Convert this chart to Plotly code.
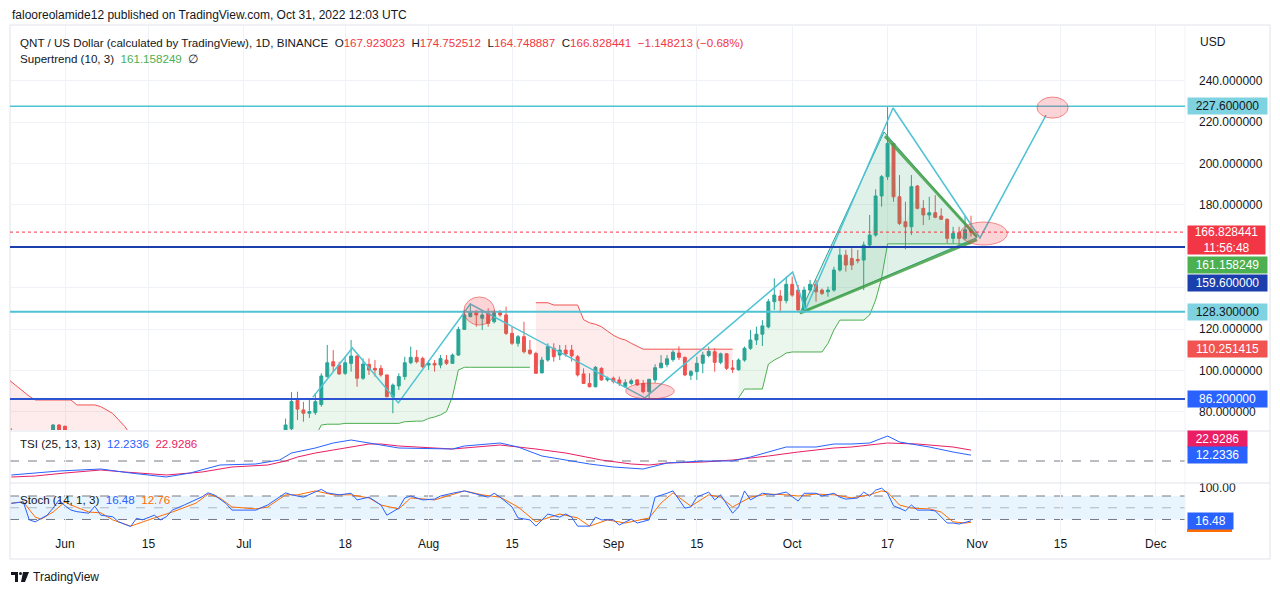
import pandas as pd
import plotly.graph_objects as go

# ===================== DATA =====================
# daily candles (QNT/USD, 1D)
pre_dates = ["2022-05-23", "2022-05-30", "2022-05-31", "2022-06-01"]
pre_open = [70.8, 70.5, 73.6, 73.0]
pre_high = [72.0, 74.0, 74.0, 73.3]
pre_low = [68.0, 68.0, 69.5, 68.5]
pre_close = [69.0, 73.6, 70.5, 69.5]

main_first, main_last = "2022-07-08", "2022-10-31"
jul_open = [70.5, 71.8, 85.5, 80.9, 79.3, 79.6, 83.5, 97.0, 104.2, 102.6, 98.6, 103.4, 106.9, 96.2, 102.9, 101.0, 101.0, 97.8, 87.3, 92.5, 97.0, 103.7, 106.3, 105.8]
jul_high = [76.7, 89.5, 89.7, 84.8, 86.5, 89.0, 98.6, 112.3, 109.8, 104.2, 106.6, 114.7, 107.4, 105.8, 105.8, 105.0, 102.6, 98.0, 93.7, 98.6, 106.6, 111.5, 109.8, 106.6]
jul_low = [69.5, 71.0, 76.0, 75.2, 77.0, 78.5, 82.5, 96.5, 99.4, 97.8, 97.8, 99.4, 92.1, 95.4, 97.8, 97.0, 97.0, 87.0, 79.3, 90.5, 95.4, 103.0, 103.4, 101.0]
jul_close = [73.6, 85.0, 81.3, 79.3, 80.1, 84.9, 97.3, 103.7, 102.1, 98.3, 103.7, 106.9, 96.2, 103.1, 100.2, 100.2, 97.8, 87.3, 92.9, 97.0, 103.7, 106.3, 104.2, 101.8]

aug_open = [102.6, 103.4, 102.6, 105.0, 103.4, 107.4, 119.8, 126.0, 128.4, 125.2, 127.6, 123.5, 128.4, 126.8, 117.9, 113.1, 116.3, 109.8, 108.2, 98.8, 105.0, 110.7, 107.4, 109.8, 109.8, 106.6, 98.3, 93.7, 92.1, 101.0, 95.4]
aug_high = [105.0, 105.0, 107.4, 107.4, 108.2, 121.1, 129.2, 132.4, 129.2, 129.2, 130.0, 129.2, 129.2, 130.8, 121.1, 117.1, 123.5, 114.7, 109.0, 106.6, 113.1, 113.1, 112.3, 112.3, 112.3, 107.4, 101.0, 98.6, 102.1, 101.5, 97.0]
aug_low = [100.2, 99.4, 101.0, 102.6, 103.1, 107.0, 119.5, 125.6, 121.1, 119.5, 121.1, 122.7, 126.0, 117.1, 112.3, 111.5, 108.2, 107.4, 98.3, 98.6, 104.2, 104.2, 105.0, 106.6, 104.2, 97.0, 93.4, 91.8, 91.8, 95.0, 94.6]
aug_close = [103.4, 102.6, 105.8, 103.4, 107.4, 119.8, 126.8, 128.4, 126.8, 126.8, 122.7, 128.4, 126.8, 117.9, 113.1, 116.3, 109.0, 108.2, 98.6, 105.0, 111.5, 106.6, 109.8, 107.9, 107.0, 97.8, 93.7, 92.1, 101.5, 95.4, 96.2]

sep_open = [96.2, 95.4, 92.1, 93.7, 95.4, 93.7, 89.7, 95.4, 101.3, 102.8, 105.2, 108.4, 106.2, 97.6, 99.4, 103.4, 107.2, 109.0, 103.9, 108.0, 101.2, 100.3, 105.0, 110.7, 114.7, 117.5, 121.0, 133.2, 135.9, 133.7]
sep_high = [97.0, 97.0, 95.7, 96.0, 95.7, 95.4, 95.7, 103.0, 107.4, 107.4, 109.8, 111.6, 106.8, 100.2, 106.6, 109.0, 111.5, 110.7, 108.6, 108.4, 105.0, 105.8, 111.5, 119.5, 121.1, 124.3, 134.5, 144.5, 138.8, 145.3]
sep_low = [93.7, 92.5, 91.8, 93.0, 92.5, 88.9, 86.0, 94.0, 101.0, 101.5, 104.2, 105.0, 97.2, 95.4, 95.4, 98.6, 106.3, 99.4, 103.0, 100.2, 98.8, 99.9, 104.2, 109.9, 112.3, 111.8, 120.3, 129.2, 127.9, 132.4]
sep_close = [94.6, 93.7, 94.1, 95.0, 93.0, 89.7, 95.7, 101.3, 103.5, 105.6, 108.8, 106.3, 97.8, 99.4, 103.4, 107.4, 109.2, 103.9, 108.0, 101.0, 100.5, 105.0, 110.7, 114.7, 117.5, 121.5, 133.2, 136.4, 133.7, 141.6]

oct_open = [141.6, 138.8, 129.2, 138.8, 141.6, 138.8, 138.0, 138.8, 148.5, 155.7, 154.1, 153.6, 153.3, 160.6, 165.4, 184.3, 193.6, 209.7, 183.9, 171.8, 169.4, 189.1, 178.3, 175.1, 176.2, 174.6, 173.0, 163.8, 166.5, 163.8, 167.923023]
oct_high = [145.3, 141.3, 140.5, 143.7, 143.7, 139.6, 140.5, 150.1, 159.0, 158.2, 159.0, 158.2, 162.2, 175.1, 187.5, 194.4, 227.6, 209.9, 194.4, 181.5, 194.4, 189.6, 182.3, 183.9, 184.7, 178.3, 173.5, 169.4, 169.4, 174.6, 174.752512]
oct_low = [135.6, 128.4, 128.4, 138.0, 133.2, 136.4, 135.6, 138.0, 147.7, 147.7, 148.5, 151.7, 138.8, 159.8, 164.6, 179.1, 192.0, 181.5, 170.2, 158.5, 165.4, 177.8, 170.2, 172.7, 173.5, 172.7, 161.4, 161.4, 159.8, 163.0, 164.748887]
oct_close = [136.4, 129.2, 138.8, 141.6, 138.0, 137.2, 138.8, 148.5, 155.7, 150.9, 150.9, 153.0, 160.6, 165.4, 184.3, 193.6, 209.7, 183.9, 171.0, 169.4, 188.8, 178.3, 175.1, 176.2, 174.0, 173.0, 163.8, 166.2, 163.8, 167.976654, 166.828441]

# Supertrend (10, 3) segments
st_a_first = "2022-05-22"   # down trend
st_a_vals = [96.8, 94.5, 92.0, 89.5, 87.5, 85.7, 85.7, 85.7, 85.7, 85.7, 85.7, 85.7, 83.3, 83.3, 83.3, 83.3, 82.5, 81.0, 79.2, 76.1, 73.0, 69.0]
st_b_first = "2022-07-08"   # up trend
st_b_vals = [63.0, 64.0, 65.0, 66.0, 67.0, 68.0, 73.6, 74.0, 74.0, 74.0, 74.4, 74.4, 74.4, 74.4, 74.4, 74.4, 74.4, 74.4, 74.4, 74.4, 75.2, 75.5, 75.5, 75.5,
             76.8, 77.5, 78.5, 80.1, 87.3, 100.2, 101.5, 101.5, 101.5, 101.5, 101.5, 101.5, 101.5, 101.5, 101.5, 101.5, 101.5, 101.5]
st_c_first = "2022-08-19"   # down trend
st_c_vals = [132.7, 132.7, 132.7, 131.6, 131.6, 131.6, 131.6, 131.6, 124.5, 123.0, 122.3, 121.1, 119.0,
             117.0, 115.5, 114.7, 113.1, 111.8, 110.251415, 110.251415, 110.251415, 110.251415, 110.251415, 110.251415, 110.251415,
             110.251415, 110.251415, 110.251415, 110.251415, 110.251415, 110.251415, 110.251415, 110.251415, 110.251415]
st_d_first = "2022-09-22"   # up trend
st_d_vals = [86.7, 91.0, 91.0, 91.0, 91.0, 103.0, 105.0, 106.5, 108.4,
             108.9, 108.9, 108.9, 108.9, 108.9, 108.9, 113.0, 119.5, 124.3, 124.3, 124.3, 124.3, 124.3, 126.8, 134.0, 144.6,
             161.158249, 161.158249, 161.158249, 161.158249, 161.158249, 161.158249, 161.158249, 161.158249, 161.158249, 161.158249,
             161.158249, 161.158249, 161.158249, 161.158249, 161.158249]

# TSI (25, 13, 13)
tsi_dates = ["2022-05-23", "2022-05-27", "2022-05-31", "2022-06-07", "2022-06-12", "2022-06-18", "2022-06-22", "2022-06-27", "2022-07-03",
             "2022-07-07", "2022-07-09", "2022-07-13", "2022-07-16", "2022-07-19", "2022-07-22", "2022-07-24", "2022-07-27", "2022-08-05",
             "2022-08-07", "2022-08-13", "2022-08-16", "2022-08-20", "2022-08-24", "2022-08-28", "2022-09-01", "2022-09-06", "2022-09-10",
             "2022-09-16", "2022-09-21", "2022-09-24", "2022-09-30", "2022-10-05", "2022-10-08", "2022-10-11", "2022-10-14", "2022-10-17",
             "2022-10-19", "2022-10-24", "2022-10-28", "2022-10-31"]
tsi_vals = [-29.4, -25.2, -21.0, -16.8, -25.2, -33.6, -25.2, -8.4, -6.3, 2.1, 16.8, 27.3, 37.8, 44.1, 37.8, 33.6, 27.3, 25.2,
            31.5, 37.8, 29.4, 10.5, 2.1, -6.3, -12.6, -16.8, -4.2, 0.0, 0.0, 8.4, 29.4, 29.4, 35.7, 35.7, 37.8, 52.5,
            39.9, 29.4, 18.9, 12.2336]
sig_dates = ["2022-05-23", "2022-05-27", "2022-06-01", "2022-06-07", "2022-06-11", "2022-06-15", "2022-06-18", "2022-06-24", "2022-06-29",
             "2022-07-05", "2022-07-08", "2022-07-10", "2022-07-13", "2022-07-16", "2022-07-19", "2022-07-22", "2022-07-24", "2022-07-27",
             "2022-08-05", "2022-08-13", "2022-08-19", "2022-08-24", "2022-08-30", "2022-09-04", "2022-09-07", "2022-09-10", "2022-09-16",
             "2022-09-21", "2022-09-27", "2022-10-02", "2022-10-08", "2022-10-11", "2022-10-17", "2022-10-22", "2022-10-28", "2022-10-31"]
sig_vals = [-33.6, -31.5, -25.2, -18.9, -23.1, -27.3, -29.4, -23.1, -12.6, -8.4, 0.0, 8.4, 16.8, 23.1, 29.4, 35.7, 35.7, 31.5,
            25.2, 33.6, 25.2, 16.8, 2.1, -6.3, -8.4, -4.2, -2.1, 2.1, 10.5, 18.9, 27.3, 29.4, 37.8, 35.7, 29.4, 22.9286]

# Stoch (14, 1, 3)
k_dates = ["2022-05-23", "2022-05-25", "2022-05-26", "2022-05-27", "2022-05-29", "2022-05-30", "2022-05-31", "2022-06-01", "2022-06-02",
           "2022-06-03", "2022-06-05", "2022-06-06", "2022-06-07", "2022-06-09", "2022-06-10", "2022-06-12", "2022-06-13", "2022-06-14",
           "2022-06-16", "2022-06-17", "2022-06-18", "2022-06-19", "2022-06-21", "2022-06-24", "2022-06-25", "2022-06-26", "2022-06-28",
           "2022-06-29", "2022-07-01", "2022-07-03", "2022-07-05", "2022-07-07", "2022-07-08", "2022-07-09", "2022-07-11", "2022-07-14",
           "2022-07-15", "2022-07-17", "2022-07-19", "2022-07-20", "2022-07-22", "2022-07-24", "2022-07-25", "2022-07-27", "2022-07-28",
           "2022-07-29", "2022-07-31", "2022-08-02", "2022-08-03", "2022-08-05", "2022-08-07", "2022-08-09", "2022-08-11", "2022-08-12",
           "2022-08-13", "2022-08-15", "2022-08-16", "2022-08-18", "2022-08-19", "2022-08-21", "2022-08-23", "2022-08-24", "2022-08-25",
           "2022-08-26", "2022-08-28", "2022-08-29", "2022-08-30", "2022-09-01", "2022-09-02", "2022-09-04", "2022-09-05", "2022-09-07",
           "2022-09-08", "2022-09-10", "2022-09-11", "2022-09-13", "2022-09-14", "2022-09-15", "2022-09-17", "2022-09-18", "2022-09-19",
           "2022-09-21", "2022-09-22", "2022-09-23", "2022-09-24", "2022-09-26", "2022-09-28", "2022-09-30", "2022-10-02", "2022-10-03",
           "2022-10-05", "2022-10-06", "2022-10-08", "2022-10-09", "2022-10-10", "2022-10-12", "2022-10-13", "2022-10-14", "2022-10-15",
           "2022-10-16", "2022-10-17", "2022-10-18", "2022-10-20", "2022-10-21", "2022-10-22", "2022-10-24", "2022-10-25", "2022-10-27",
           "2022-10-28", "2022-10-29", "2022-10-31"]
k_vals = [61, 65, 19, 14, 31, 49, 70, 55, 44, 40, 36, 54, 31, 27, 14, 2, 23, 19, 31, 19, 27, 44, 57, 78, 88, 83, 61, 44, 44, 44,
          57, 78, 88, 83, 77, 97, 88, 83, 87, 70, 77, 57, 31, 49, 75, 80, 70, 72, 80, 87, 93, 85, 77, 87, 77, 52, 24, 19, 3,
          34, 26, 34, 26, 3, 3, 26, 19, 19, 6, 21, 11, 19, 77, 87, 93, 49, 52, 77, 90, 70, 83, 36, 52, 93, 70, 87, 83, 90, 67,
          87, 87, 80, 87, 77, 72, 75, 90, 80, 95, 100, 87, 55, 42, 57, 44, 44, 42, 11, 11, 8.5, 16.48]
d_dates = ["2022-05-23", "2022-05-25", "2022-05-27", "2022-05-28", "2022-05-30", "2022-06-01", "2022-06-02", "2022-06-05", "2022-06-07",
           "2022-06-09", "2022-06-12", "2022-06-14", "2022-06-16", "2022-06-19", "2022-06-23", "2022-06-25", "2022-06-27", "2022-06-29",
           "2022-07-03", "2022-07-05", "2022-07-08", "2022-07-10", "2022-07-13", "2022-07-16", "2022-07-19", "2022-07-22", "2022-07-24",
           "2022-07-27", "2022-07-29", "2022-08-02", "2022-08-05", "2022-08-07", "2022-08-10", "2022-08-13", "2022-08-16", "2022-08-19",
           "2022-08-23", "2022-08-26", "2022-08-28", "2022-08-31", "2022-09-03", "2022-09-07", "2022-09-09", "2022-09-11", "2022-09-14",
           "2022-09-17", "2022-09-19", "2022-09-21", "2022-09-24", "2022-09-27", "2022-09-30", "2022-10-02", "2022-10-05", "2022-10-08",
           "2022-10-11", "2022-10-14", "2022-10-16", "2022-10-17", "2022-10-19", "2022-10-21", "2022-10-24", "2022-10-26", "2022-10-28",
           "2022-10-30", "2022-10-31"]
d_vals = [62, 65, 26, 21, 39, 65, 57, 39, 37, 19, 3, 14, 24, 39, 62, 85, 75, 52, 47, 52, 83, 83, 93, 83, 83, 75, 57, 47, 75, 70,
          83, 93, 83, 77, 52, 14, 34, 24, 3, 19, 11, 24, 62, 88, 54, 83, 77, 52, 77, 85, 83, 80, 85, 83, 75, 83, 93, 90, 57, 49,
          47, 39, 14, 11, 12.76]

# drawings (user annotations on the chart)
levels_cyan = [227.6, 128.3]
level_navy = 159.6
level_blue = 86.2
last_price = 166.828441
zig_t = ["2022-07-12 14:00", "2022-07-19 05:00", "2022-07-26 22:00", "2022-08-08 00:00", "2022-09-06 07:00",
         "2022-10-01 02:00", "2022-10-03 05:00", "2022-10-17 22:00", "2022-11-01 12:00", "2022-11-12 14:00"]
zig_p = [87.1, 110.8, 84.3, 132.1, 86.7, 147.5, 129.2, 226.8, 164.0, 223.4]
tri_t = ["2022-10-02 07:00", "2022-10-16 10:00", "2022-11-01 00:00", "2022-10-02 07:00"]
tri_p = [127.7, 215.2, 164.2, 127.7]
upper_t, upper_p = ["2022-10-16 14:00", "2022-11-01 00:00"], [213.2, 164.6]
lower_t, lower_p = ["2022-10-02 07:00", "2022-11-01 00:00"], [127.7, 163.2]
ellipses = [("2022-08-06 22:00", "2022-08-12 02:00", 121.9, 135.5),
            ("2022-09-03 02:00", "2022-09-11 05:00", 86.2, 93.9),
            ("2022-10-29 05:00", "2022-11-06 02:00", 160.6, 171.7),
            ("2022-11-11 02:00", "2022-11-16 07:00", 221.9, 232.1)]

price_ticks = [80, 100, 120, 140, 160, 180, 200, 220, 240]
hidden_ticks = [140, 160]   # covered by price labels in the original
time_ticks = ["2022-06-01", "2022-06-15", "2022-07-01", "2022-07-18", "2022-08-01", "2022-08-15", "2022-09-01",
              "2022-09-15", "2022-10-01", "2022-10-17", "2022-11-01", "2022-11-15", "2022-12-01"]
time_labels = ["Jun", "15", "Jul", "18", "Aug", "15", "Sep", "15", "Oct", "17", "Nov", "15", "Dec"]
stoch_levels = [20, 50, 80]

# ===================== LAYOUT HELPERS =====================
# page body has an 8px margin -> figure drawn 8px right/down of window origin
PAGE = 8
W, H = 1280 - PAGE, 595 - PAGE
PLOT_L, PLOT_R, PLOT_T, PLOT_B = 10, 1185, 25, 535   # target window pixels
ML, MR, MT, MB = PLOT_L - PAGE, W + PAGE - PLOT_R, PLOT_T - PAGE, H + PAGE - PLOT_B
PW, PH = PLOT_R - PLOT_L, PLOT_B - PLOT_T


def px(x):
    return (x - PLOT_L) / PW


def py(y):
    return (PLOT_B - y) / PH


UP, DN = "#26a69a", "#ef5350"
ST_G, ST_R = "#4caf50", "#f05350"
CYAN = "#4fc3d3"
FONT = "Liberation Sans"
TXT = "#131722"

main_dates = pd.date_range(main_first, main_last, freq="D")
o_main = jul_open + aug_open + sep_open + oct_open
h_main = jul_high + aug_high + sep_high + oct_high
l_main = jul_low + aug_low + sep_low + oct_low
c_main = jul_close + aug_close + sep_close + oct_close
mid = pd.Series([(a + b) / 2 for a, b in zip(o_main, c_main)], index=main_dates)

fig = go.Figure()

# --- supertrend fills and lines ---
da = pd.date_range(st_a_first, periods=len(st_a_vals), freq="D")
fig.add_trace(go.Scatter(x=da, y=st_a_vals, mode="lines", line=dict(color=ST_R, width=1),
                         fill="tozeroy", fillcolor="rgba(242,54,69,0.10)"))
for first, vals, col, fcol in [(st_b_first, st_b_vals, ST_G, "rgba(76,175,80,0.11)"),
                               (st_c_first, st_c_vals, ST_R, "rgba(242,54,69,0.10)"),
                               (st_d_first, st_d_vals, ST_G, "rgba(76,175,80,0.11)")]:
    d = pd.date_range(first, periods=len(vals), freq="D")
    fig.add_trace(go.Scatter(x=d, y=mid.loc[d].values, mode="lines", line=dict(width=0), showlegend=False))
    fig.add_trace(go.Scatter(x=d, y=vals, mode="lines", line=dict(color=col, width=1),
                             fill="tonexty", fillcolor=fcol))

# --- candles ---
fig.add_trace(go.Candlestick(
    x=list(pd.to_datetime(pre_dates)) + list(main_dates),
    open=pre_open + o_main, high=pre_high + h_main, low=pre_low + l_main, close=pre_close + c_main,
    increasing=dict(line=dict(color=UP, width=1), fillcolor=UP),
    decreasing=dict(line=dict(color=DN, width=1), fillcolor=DN),
    whiskerwidth=0))

# --- triangle pattern ---
fig.add_trace(go.Scatter(x=tri_t, y=tri_p, mode="lines", line=dict(color="#26a69a", width=1),
                         fill="toself", fillcolor="rgba(56,170,120,0.16)"))
fig.add_trace(go.Scatter(x=upper_t, y=upper_p, mode="lines", line=dict(color="rgba(67,160,71,0.85)", width=3)))
fig.add_trace(go.Scatter(x=lower_t, y=lower_p, mode="lines", line=dict(color="rgba(67,160,71,0.85)", width=3)))
# --- zigzag path ---
fig.add_trace(go.Scatter(x=zig_t, y=zig_p, mode="lines", line=dict(color=CYAN, width=1.5)))

# --- TSI ---
fig.add_trace(go.Scatter(x=sig_dates, y=sig_vals, mode="lines", line=dict(color="#e91e63", width=1), yaxis="y2"))
fig.add_trace(go.Scatter(x=tsi_dates, y=tsi_vals, mode="lines", line=dict(color="#2962ff", width=1), yaxis="y2"))
# --- Stoch ---
fig.add_trace(go.Scatter(x=d_dates, y=d_vals, mode="lines", line=dict(color="#ff6d00", width=1), yaxis="y3"))
fig.add_trace(go.Scatter(x=k_dates, y=k_vals, mode="lines", line=dict(color="#2962ff", width=1), yaxis="y3"))

# ===================== SHAPES =====================
shapes = []
shapes.append(dict(type="rect", xref="paper", yref="y3", x0=0, x1=1, y0=stoch_levels[0], y1=stoch_levels[2],
                   fillcolor="rgba(33,150,243,0.10)", line=dict(width=0), layer="below"))
for lv, colr in [(stoch_levels[0], "#787b86"), (stoch_levels[1], "rgba(120,123,134,0.5)"), (stoch_levels[2], "#787b86")]:
    shapes.append(dict(type="line", xref="paper", yref="y3", x0=0, x1=1, y0=lv, y1=lv,
                       line=dict(color=colr, width=1, dash="dash"), layer="below"))
shapes.append(dict(type="line", xref="paper", yref="y2", x0=0, x1=1, y0=0, y1=0,
                   line=dict(color="#787b86", width=1, dash="dash"), layer="below"))
for lv in levels_cyan:
    shapes.append(dict(type="line", xref="paper", yref="y", x0=0, x1=1, y0=lv, y1=lv,
                       line=dict(color=CYAN, width=2 if lv < 200 else 1.5)))
shapes.append(dict(type="line", xref="paper", yref="y", x0=0, x1=1, y0=level_navy, y1=level_navy,
                   line=dict(color="#1c3fae", width=2)))
shapes.append(dict(type="line", xref="paper", yref="y", x0=0, x1=1, y0=level_blue, y1=level_blue,
                   line=dict(color="#2d55d2", width=2)))
shapes.append(dict(type="line", xref="paper", yref="y", x0=0, x1=1, y0=last_price, y1=last_price,
                   line=dict(color="#f23645", width=1, dash="dot")))
for x0, x1, y0, y1 in ellipses:
    shapes.append(dict(type="circle", xref="x", yref="y", x0=x0, x1=x1, y0=y0, y1=y1,
                       fillcolor="rgba(242,54,69,0.22)", line=dict(color="rgba(229,57,53,0.55)", width=1)))
# frame / separators
shapes.append(dict(type="rect", xref="paper", yref="paper", x0=px(10), x1=px(1270), y0=py(559), y1=py(25),
                   line=dict(color="#e0e3eb", width=1), layer="below"))
for yy in (431, 483):
    shapes.append(dict(type="line", xref="paper", yref="paper", x0=px(10), x1=px(1270), y0=py(yy), y1=py(yy),
                       line=dict(color="#e0e3eb", width=1)))
shapes.append(dict(type="line", xref="paper", yref="paper", x0=1, x1=1, y0=py(537), y1=py(25),
                   line=dict(color="#f0f3fa", width=1), layer="below"))
# orange strip of the (covered) %D price label
shapes.append(dict(type="rect", xref="paper", yref="paper", x0=px(1187), x1=px(1232), y0=py(532), y1=py(529),
                   fillcolor="#ff6d00", line=dict(width=0)))
# TradingView logo glyph
shapes += [
    dict(type="rect", xref="paper", yref="paper", x0=px(11), x1=px(18), y0=py(575), y1=py(572), fillcolor=TXT, line=dict(width=0)),
    dict(type="rect", xref="paper", yref="paper", x0=px(15), x1=px(18), y0=py(582), y1=py(572), fillcolor=TXT, line=dict(width=0)),
    dict(type="circle", xref="paper", yref="paper", x0=px(19), x1=px(22), y0=py(575), y1=py(572), fillcolor=TXT, line=dict(width=0)),
    dict(type="path", xref="paper", yref="paper",
         path=f"M {px(23)} {py(572)} L {px(29)} {py(572)} L {px(25)} {py(582)} L {px(21)} {py(582)} Z",
         fillcolor=TXT, line=dict(width=0)),
]

# ===================== ANNOTATIONS =====================
ann = []


def note(text, x, y, size=12, color=TXT, xanchor="left"):
    ann.append(dict(text=text, x=x, y=y, xref="paper", yref="paper", xanchor=xanchor, yanchor="middle",
                    showarrow=False, font=dict(family=FONT, size=size, color=color)))


R = "#f23645"
NB = "\u00a0"
note("falooreolamide12 published on TradingView.com, Oct 31, 2022 12:03 UTC", px(10), py(15))
note("QNT / US Dollar (calculated by TradingView), 1D, BINANCE" + NB * 2 +
     f"O<span style='color:{R}'>167.923023</span>{NB*2}H<span style='color:{R}'>174.752512</span>{NB*2}"
     f"L<span style='color:{R}'>164.748887</span>{NB*2}C<span style='color:{R}'>166.828441</span>{NB*2}"
     f"<span style='color:{R}'>\u22121.148213 (\u22120.68%)</span>", px(18), py(42), size=11.6)
note(f"Supertrend (10, 3){NB*2}<span style='color:#4caf50'>161.158249</span>{NB*2}\u2205", px(18), py(59), size=11.6)
note(f"TSI (25, 13, 13){NB*2}<span style='color:#2962ff'>12.2336</span>{NB*2}<span style='color:#e91e63'>22.9286</span>",
     px(18), py(443), size=11.6)
note(f"Stoch (14, 1, 3){NB*2}<span style='color:#2962ff'>16.48</span>{NB*2}<span style='color:#ff6d00'>12.76</span>",
     px(18), py(499), size=11.6)
note("USD", px(1198), py(42))
note("TradingView", px(31), py(577))


def axis_label(text, yref, y, bg, fg="white", yshift=0, width=75, height=12):
    ann.append(dict(text=text, x=px(1187), y=y, xref="paper", yref=yref, xanchor="left", yanchor="middle",
                    yshift=yshift, showarrow=False, bgcolor=bg, borderpad=2, width=width, height=height,
                    align="center", font=dict(family=FONT, size=12, color=fg)))


axis_label("227.600000", "y", levels_cyan[0], "#7fd3e1", fg=TXT)
ann.append(dict(text="166.828441<br>11:56:48", x=px(1187), y=last_price, xref="paper", yref="y",
                xanchor="left", yanchor="top", yshift=7, showarrow=False, bgcolor="#f23645", borderpad=1,
                width=75, height=26, align="center", font=dict(family=FONT, size=12, color="white")))
axis_label("161.158249", "y", st_d_vals[-1], "#4caf50", yshift=-21)
axis_label("159.600000", "y", level_navy, "#1c3fae", yshift=-36)
axis_label("128.300000", "y", levels_cyan[1], "#7fd3e1", fg=TXT)
axis_label("110.251415", "y", st_c_vals[-1], "#f05350")
axis_label("86.200000", "y", level_blue, "#2962ff")
axis_label("22.9286", "y2", sig_vals[-1], "#e91e63", yshift=11, width=55)
axis_label("12.2336", "y2", tsi_vals[-1], "#2962ff", width=55)
axis_label("16.48", "y3", k_vals[-1], "#2962ff", width=41)

GRID = "#eff2f7"
fig.update_layout(
    width=W, height=H, margin=dict(l=ML, r=MR, t=MT, b=MB, autoexpand=False),
    paper_bgcolor="white", plot_bgcolor="white", showlegend=False, hovermode=False,
    font=dict(family=FONT, size=12, color=TXT),
    xaxis=dict(type="date", range=["2022-05-22 18:30", "2022-12-05 21:40"], anchor="y3",
               tickvals=time_ticks, ticktext=time_labels, showgrid=True, gridcolor=GRID, gridwidth=1,
               rangeslider=dict(visible=False), showline=False, zeroline=False, ticks="",
               tickfont=dict(family=FONT, size=12, color=TXT)),
    yaxis=dict(domain=[py(430), 1], range=[71.2, 266.9], side="right", anchor="x",
               tickvals=price_ticks,
               ticktext=["" if v in hidden_ticks else f"{v:.6f}" for v in price_ticks],
               showgrid=True, gridcolor=GRID, zeroline=False, ticks="", ticklabelstandoff=13,
               tickfont=dict(family=FONT, size=12, color=TXT)),
    yaxis2=dict(domain=[py(483), py(432)], range=[-46.2, 60.9], side="right", anchor="x",
                showticklabels=False, showgrid=False, zeroline=False),
    yaxis3=dict(domain=[0, py(483)], range=[-19.6, 113.2], side="right", anchor="x",
                tickvals=[100], ticktext=["100.00"], showgrid=False, zeroline=False, ticks="",
                ticklabelstandoff=13, tickfont=dict(family=FONT, size=12, color=TXT)),
    shapes=shapes, annotations=ann,
)

fig.write_html("out.html")
